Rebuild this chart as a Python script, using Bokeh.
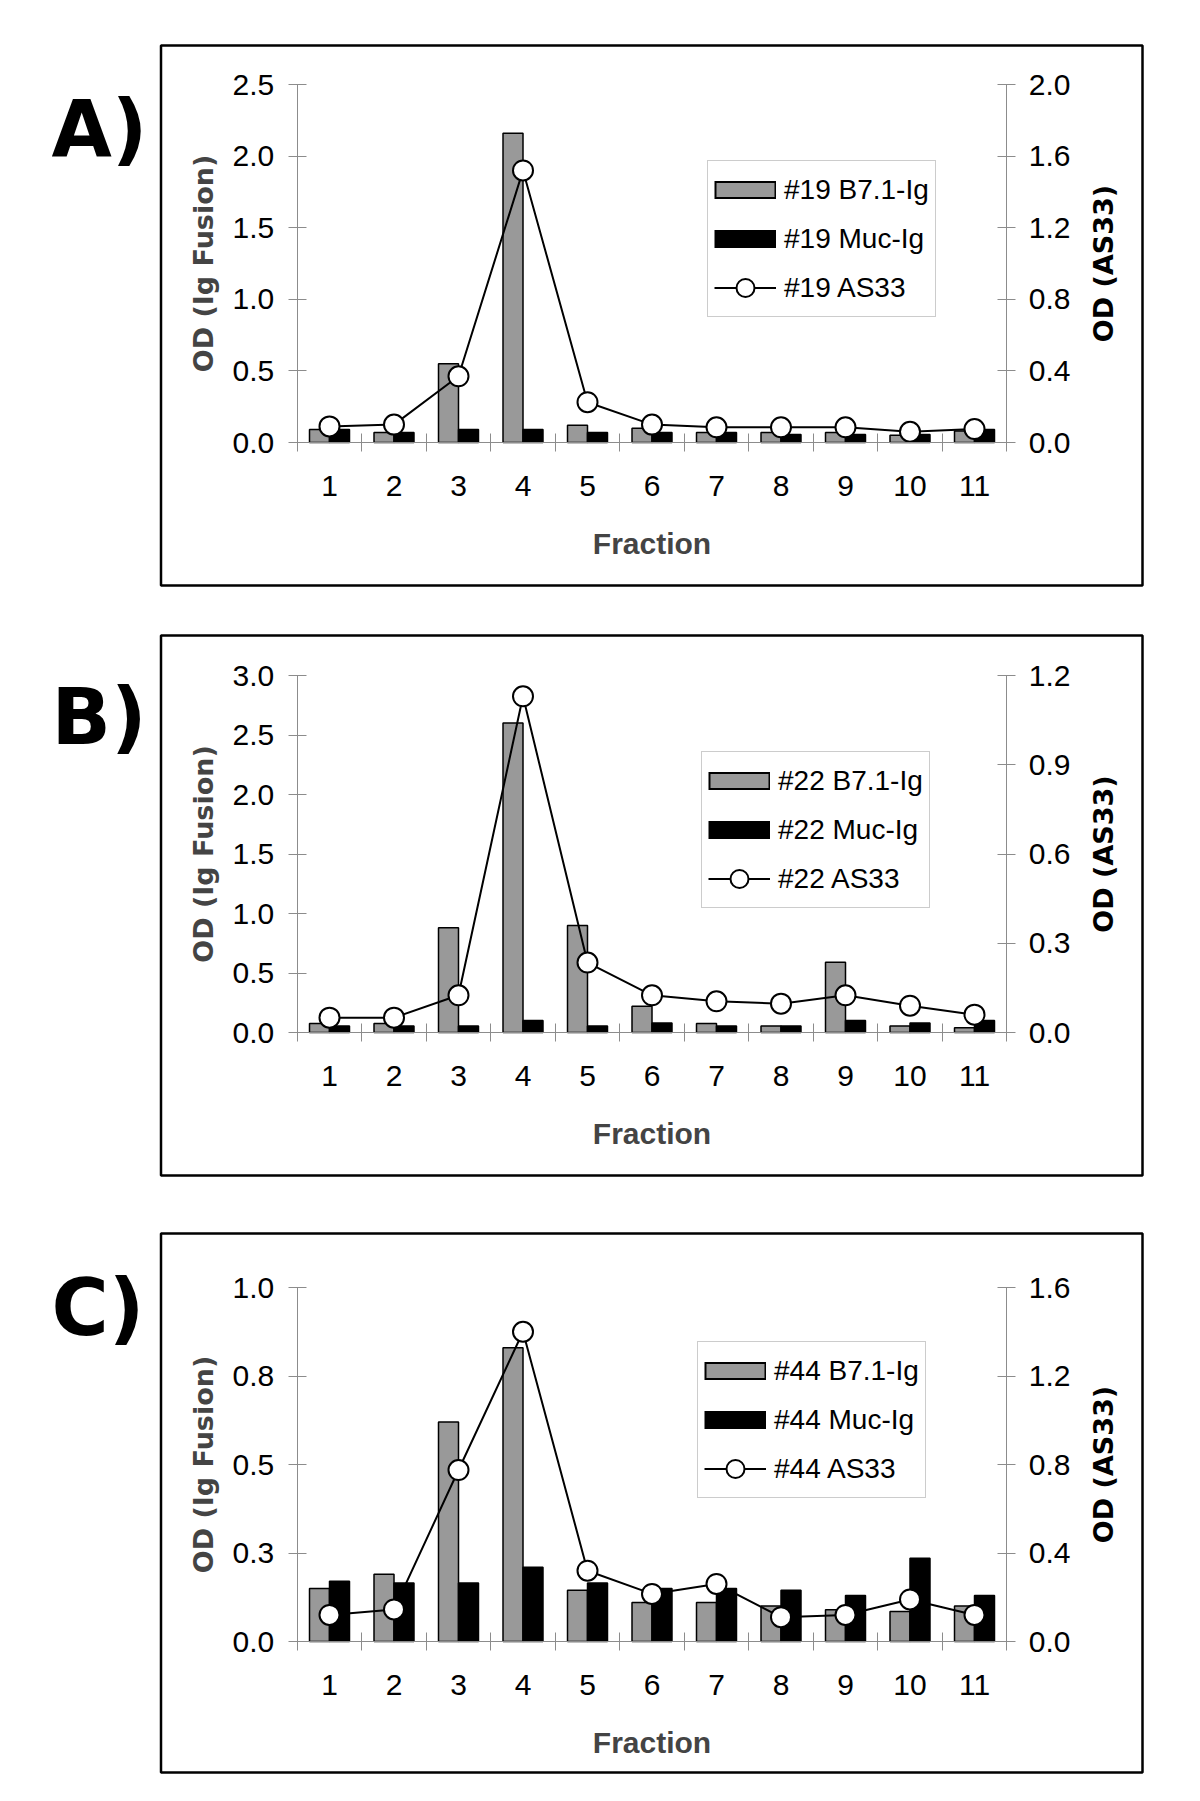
import math
import numpy as np
from bokeh.plotting import figure
from bokeh.models import (Range1d, LinearAxis, FixedTicker, Legend, LegendItem,
                          Label, ColumnDataSource, BoxAnnotation)
from bokeh.transform import dodge
from bokeh.layouts import column
from bokeh.embed import file_html
from bokeh.resources import INLINE

# ---------------- data ----------------
fractions = [1, 2, 3, 4, 5, 6, 7, 8, 9, 10, 11]
fraction_labels = ["1", "2", "3", "4", "5", "6", "7", "8", "9", "10", "11"]

a_sample = "#19"
a_b71 = [0.09, 0.07, 0.55, 2.16, 0.12, 0.10, 0.07, 0.07, 0.07, 0.05, 0.08]
a_muc = [0.09, 0.07, 0.09, 0.09, 0.07, 0.07, 0.07, 0.055, 0.055, 0.055, 0.09]
a_as33 = [0.09, 0.10, 0.37, 1.52, 0.225, 0.10, 0.085, 0.085, 0.085, 0.06, 0.075]
a_left_ticks = [0.0, 0.5, 1.0, 1.5, 2.0, 2.5]
a_left_labels = ["0.0", "0.5", "1.0", "1.5", "2.0", "2.5"]
a_right_ticks = [0.0, 0.4, 0.8, 1.2, 1.6, 2.0]
a_right_labels = ["0.0", "0.4", "0.8", "1.2", "1.6", "2.0"]

b_sample = "#22"
b_b71 = [0.075, 0.075, 0.88, 2.60, 0.90, 0.22, 0.075, 0.055, 0.59, 0.055, 0.04]
b_muc = [0.055, 0.055, 0.055, 0.10, 0.055, 0.08, 0.055, 0.055, 0.10, 0.08, 0.10]
b_as33 = [0.05, 0.05, 0.125, 1.13, 0.235, 0.125, 0.105, 0.097, 0.125, 0.09, 0.06]
b_left_ticks = [0.0, 0.5, 1.0, 1.5, 2.0, 2.5, 3.0]
b_left_labels = ["0.0", "0.5", "1.0", "1.5", "2.0", "2.5", "3.0"]
b_right_ticks = [0.0, 0.3, 0.6, 0.9, 1.2]
b_right_labels = ["0.0", "0.3", "0.6", "0.9", "1.2"]

c_sample = "#44"
c_b71 = [0.15, 0.19, 0.62, 0.83, 0.145, 0.11, 0.11, 0.10, 0.09, 0.085, 0.10]
c_muc = [0.17, 0.165, 0.165, 0.21, 0.165, 0.15, 0.15, 0.145, 0.13, 0.235, 0.13]
c_as33 = [0.12, 0.145, 0.775, 1.40, 0.32, 0.215, 0.26, 0.11, 0.12, 0.19, 0.12]
c_left_ticks = [0.0, 0.25, 0.5, 0.75, 1.0]
c_left_labels = ["0.0", "0.3", "0.5", "0.8", "1.0"]
c_right_ticks = [0.0, 0.4, 0.8, 1.2, 1.6]
c_right_labels = ["0.0", "0.4", "0.8", "1.2", "1.6"]

series_names = ["B7.1-Ig", "Muc-Ig", "AS33"]
left_title = "OD (Ig Fusion)"
right_title = "OD (AS33)"
x_title = "Fraction"

# ---------------- layout / style ----------------
FIG_W, FIG_H = 1200, 600
CAT_PX = 64.5          # pixels per fraction
CAT1_PX = 329          # centre of fraction 1 from the left of the page
BOX_L, BOX_R = 160.5, 1142   # panel frame box (pixels)
BAR_W = 0.31
BAR_OFF = 0.155
AXIS_GRAY = "#8c8c8c"
BAR_GRAY = "#999999"
TICK_FONT = "Liberation Sans"
TITLE_X = 1103


def style_axis(ax):
    ax.axis_line_color = AXIS_GRAY
    ax.axis_line_width = 1
    ax.major_tick_line_color = AXIS_GRAY
    ax.major_tick_line_width = 1
    ax.major_tick_in = 9
    ax.major_tick_out = 9
    ax.minor_tick_line_color = None
    ax.major_label_text_font = TICK_FONT
    ax.major_label_text_font_size = "30px"
    ax.major_label_text_color = "black"


def make_panel(tag, sample, b71, muc, as33, lt, ll, rt, rl,
               top_tick_px, zero_px, box_top, box_bot, legend_pos, tag_pos):
    x0 = fractions[0] - CAT1_PX / CAT_PX
    x1 = x0 + FIG_W / CAT_PX
    lmax, rmax = lt[-1], rt[-1]
    lpx = (zero_px - top_tick_px) / lmax
    rpx = (zero_px - top_tick_px) / rmax
    y_range = Range1d(-(FIG_H - zero_px) / lpx, lmax + top_tick_px / lpx)
    r_range = Range1d(-(FIG_H - zero_px) / rpx, rmax + top_tick_px / rpx)

    p = figure(width=FIG_W, height=FIG_H, x_range=Range1d(x0, x1), y_range=y_range,
               output_backend="svg", toolbar_location=None,
               x_axis_location=None, y_axis_location=None)
    p.min_border = 0
    p.min_border_left = 0
    p.min_border_right = 0
    p.min_border_top = 0
    p.min_border_bottom = 0
    p.extra_y_ranges = {"as33": r_range}
    p.grid.visible = False
    p.outline_line_color = None
    p.background_fill_color = "white"
    p.border_fill_color = "white"

    # panel frame box
    p.add_layout(BoxAnnotation(left=BOX_L, right=BOX_R,
                               top=FIG_H - box_top, bottom=FIG_H - box_bot,
                               left_units="screen", right_units="screen",
                               top_units="screen", bottom_units="screen",
                               fill_color=None, fill_alpha=0,
                               line_color="black", line_width=2.5, line_alpha=1,
                               level="underlay"))

    src = ColumnDataSource(dict(x=fractions, b71=b71, muc=muc, as33=as33))
    p.vbar(x=dodge("x", -BAR_OFF), top="b71", bottom=0, width=BAR_W, source=src,
           fill_color=BAR_GRAY, line_color="black", line_width=1.5)
    p.vbar(x=dodge("x", BAR_OFF), top="muc", bottom=0, width=BAR_W, source=src,
           fill_color="black", line_color="black", line_width=1.5)
    r_line = p.line("x", "as33", source=src, y_range_name="as33",
                    line_color="black", line_width=2)
    r_pts = p.scatter("x", "as33", source=src, y_range_name="as33", marker="circle",
                      size=20, fill_color="white", line_color="black", line_width=2)

    # legend swatches (renderers without visible data, used only for legend glyphs)
    nan = np.array([np.nan])
    sw_gray_edge = p.line(x=nan, y=nan, line_color="black", line_width=18)
    sw_gray_fill = p.line(x=nan, y=nan, line_color=BAR_GRAY, line_width=14,
                          line_dash="0 2 58 100")
    sw_black = p.line(x=nan, y=nan, line_color="black", line_width=18)

    # axes
    ly = LinearAxis(fixed_location=fractions[0] - 0.5, bounds=(0, lmax),
                    ticker=FixedTicker(ticks=lt),
                    major_label_overrides=dict(zip(lt, ll)))
    style_axis(ly)
    ly.major_label_standoff = 14
    ly.axis_label = left_title
    ly.axis_label_text_font = "DejaVu Sans"
    ly.axis_label_text_font_style = "bold"
    ly.axis_label_text_font_size = "27px"
    ly.axis_label_standoff = 11
    p.add_layout(ly, "left")

    ry = LinearAxis(fixed_location=fractions[-1] + 0.5, bounds=(0, rmax), y_range_name="as33",
                    ticker=FixedTicker(ticks=rt),
                    major_label_overrides=dict(zip(rt, rl)))
    style_axis(ry)
    ry.major_label_standoff = 13
    p.add_layout(ry, "right")
    p.add_layout(Label(x=TITLE_X, y=FIG_H - (top_tick_px + zero_px) / 2,
                       x_units="screen", y_units="screen", text=right_title,
                       angle=math.pi / 2, text_align="center", text_baseline="middle",
                       text_font="DejaVu Sans", text_font_style="bold",
                       text_font_size="27px", text_color="black"))

    bounds_ticks = [f - 0.5 for f in fractions] + [fractions[-1] + 0.5]
    xa = LinearAxis(fixed_location=0, bounds=(bounds_ticks[0], bounds_ticks[-1]),
                    ticker=FixedTicker(ticks=bounds_ticks))
    style_axis(xa)
    xa.major_label_text_color = None
    p.add_layout(xa, "below")

    xl = LinearAxis(fixed_location=0, bounds=(bounds_ticks[0], bounds_ticks[-1]),
                    ticker=FixedTicker(ticks=fractions),
                    major_label_overrides=dict(zip(fractions, fraction_labels)))
    style_axis(xl)
    xl.axis_line_color = None
    xl.major_tick_line_color = None
    xl.major_tick_in = 0
    xl.major_tick_out = 0
    xl.major_label_standoff = 33
    xl.axis_label = x_title
    xl.axis_label_text_font = TICK_FONT
    xl.axis_label_text_font_style = "bold"
    xl.axis_label_text_font_size = "30px"
    xl.axis_label_standoff = 28
    p.add_layout(xl, "below")

    legend = Legend(items=[
        LegendItem(label=f"{sample} {series_names[0]}", renderers=[sw_gray_edge, sw_gray_fill]),
        LegendItem(label=f"{sample} {series_names[1]}", renderers=[sw_black]),
        LegendItem(label=f"{sample} {series_names[2]}", renderers=[r_line, r_pts]),
    ], location=legend_pos)
    legend.glyph_width = 62
    legend.glyph_height = 45
    legend.label_standoff = 8
    legend.padding = 6
    legend.spacing = 4
    legend.margin = 0
    legend.label_text_font = TICK_FONT
    legend.label_text_font_size = "28px"
    legend.label_text_color = "black"
    legend.border_line_color = "#9a9a9a"
    legend.border_line_width = 1.5
    legend.background_fill_color = "white"
    legend.background_fill_alpha = 1
    p.add_layout(legend)

    p.add_layout(Label(x=tag_pos[0], y=FIG_H - tag_pos[1], x_units="screen", y_units="screen",
                       text=tag, text_font="DejaVu Sans", text_font_style="bold",
                       text_font_size="78px", text_color="black",
                       text_baseline="alphabetic", text_align="left"))
    return p


pA = make_panel("A)", a_sample, a_b71, a_muc, a_as33, a_left_ticks, a_left_labels,
                a_right_ticks, a_right_labels, top_tick_px=84, zero_px=442,
                box_top=45, box_bot=585, legend_pos=(707, 283), tag_pos=(51, 128))
pB = make_panel("B)", b_sample, b_b71, b_muc, b_as33, b_left_ticks, b_left_labels,
                b_right_ticks, b_right_labels, top_tick_px=75, zero_px=432,
                box_top=35, box_bot=575, legend_pos=(701, 292), tag_pos=(51, 116))
pC = make_panel("C)", c_sample, c_b71, c_muc, c_as33, c_left_ticks, c_left_labels,
                c_right_ticks, c_right_labels, top_tick_px=87, zero_px=441,
                box_top=33, box_bot=572, legend_pos=(697, 302), tag_pos=(51, 107))

layout = column(pA, pB, pC, spacing=0)
open("out.html", "w").write(file_html(layout, INLINE))
